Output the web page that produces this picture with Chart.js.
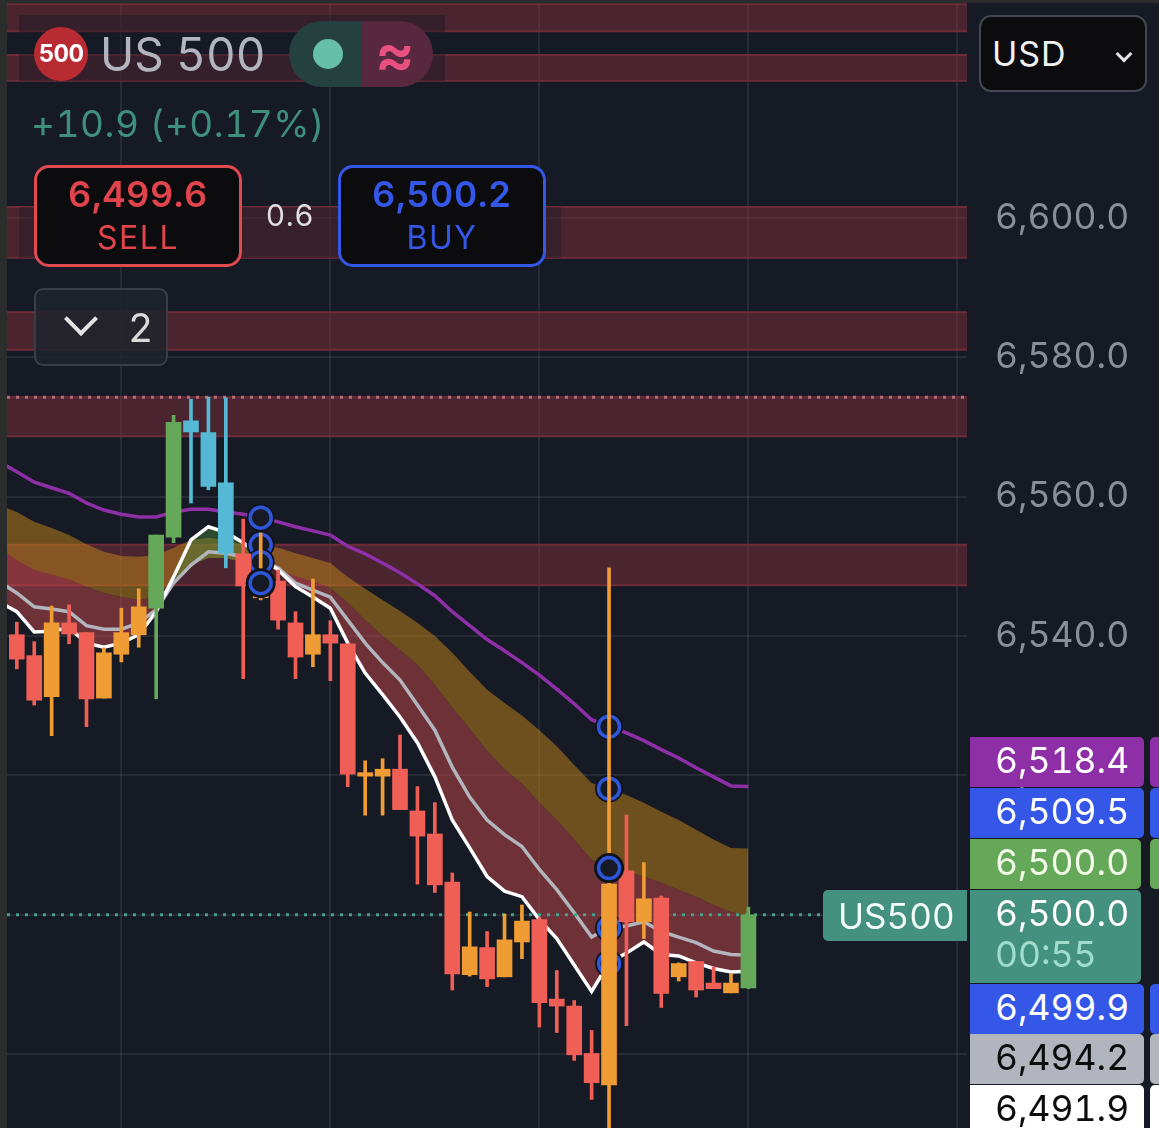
<!DOCTYPE html>
<html>
<head>
<meta charset="utf-8">
<script src="https://cdn.jsdelivr.net/npm/chart.js@4"></script>
<style>
  html, body { margin: 0; padding: 0; background: #161a25; }
  #wrap { position: relative; width: 1159px; height: 1128px; overflow: hidden; font-family: Inter, "Noto Sans", sans-serif; font-variant-numeric: tabular-nums; }
  #wrap div { position: absolute; box-sizing: border-box; white-space: nowrap; }
  canvas { position: absolute; left: 0; top: 0; }
  .center { text-align: center; }
  .tag { left: 970px; height: 50px; border-radius: 0 5px 5px 0; color: #fff; font-size: 35.5px; line-height: 48px; padding-left: 25px; }
  .stub { left: 1150px; width: 12px; height: 50px; border-radius: 5px 0 0 5px; }
  .chev { border-right: 4px solid #e3e3e3; border-bottom: 4px solid #e3e3e3; transform: rotate(45deg); }
</style>
</head>
<body>
<div id="wrap">
  <canvas id="chart" width="1159" height="1128"></canvas>

  <div style="left:0;top:0;width:7px;height:1128px;background:#2b2c2c"></div>
  <div style="left:0;top:0;width:1159px;height:3px;background:#2b2c2c"></div>

  <div style="left:19px;top:15px;width:426px;height:66px;background:rgba(22,26,37,.42)"></div>
  <div style="left:19px;top:207px;width:542px;height:51px;background:rgba(22,26,37,.35)"></div>

  <div style="left:34px;top:27px;width:54px;height:54px;border-radius:50%;background:#b82b33"></div>
  <div class="center" style="left:34px;top:27px;width:54px;line-height:54px;color:#fff;font-size:24px;font-weight:700;letter-spacing:-.6px">500</div>
  <div style="left:100px;top:26px;color:#b2b5be;font-size:46px;line-height:56px">US 500</div>
  <div style="left:289px;top:21px;width:73px;height:66px;border-radius:33px 0 0 33px;background:#24403f"></div>
  <div style="left:362px;top:21px;width:71px;height:66px;border-radius:0 33px 33px 0;background:#58283f"></div>
  <div style="left:313px;top:39px;width:30px;height:30px;border-radius:50%;background:#66bfa8"></div>
  <div class="center" style="left:362px;top:21px;width:66px;line-height:64px;color:#e8507f;font-size:60px;font-weight:600">≈</div>
  <div style="left:31px;top:100px;color:#3f8f7c;font-size:37px;line-height:48px;letter-spacing:.5px">+10.9 (+0.17%)</div>

  <div style="left:34px;top:165px;width:208px;height:102px;border:3px solid #e04a50;border-radius:15px;background:#0c0c0e"></div>
  <div class="center" style="left:34px;top:172px;width:208px;color:#e0444c;font-size:36px;line-height:44px;font-weight:600;letter-spacing:.6px">6,499.6</div>
  <div class="center" style="left:34px;top:218px;width:208px;color:#e0444c;font-size:32px;line-height:40px;letter-spacing:1.5px">SELL</div>
  <div class="center" style="left:260px;top:197px;width:60px;color:#dfdfdf;font-size:30px;line-height:36px;letter-spacing:.5px">0.6</div>
  <div style="left:338px;top:165px;width:208px;height:102px;border:3px solid #3557e8;border-radius:15px;background:#0c0c0e"></div>
  <div class="center" style="left:338px;top:172px;width:208px;color:#3557e8;font-size:36px;line-height:44px;font-weight:600;letter-spacing:.6px">6,500.2</div>
  <div class="center" style="left:338px;top:218px;width:208px;color:#3557e8;font-size:32px;line-height:40px;letter-spacing:1.5px">BUY</div>

  <div style="left:34px;top:288px;width:134px;height:78px;border:2.5px solid #3a3d45;border-radius:9px;background:rgba(32,35,44,.88)"></div>
  <div class="chev" style="left:69px;top:307px;width:24px;height:24px"></div>
  <div style="left:128px;top:304px;color:#d9d9d9;font-size:39px;line-height:48px">2</div>

  <div style="left:979px;top:15px;width:168px;height:77px;border:2.5px solid #44474f;border-radius:12px;background:#0c0c0e"></div>
  <div style="left:992px;top:32px;color:#f2f2f2;font-size:34px;line-height:44px;letter-spacing:1px">USD</div>
  <div class="chev" style="left:1118px;top:48px;width:12px;height:12px;border-width:3px"></div>

  <div style="left:823px;top:890px;width:144px;height:51px;border-radius:5px 0 0 5px;background:#45917f"></div>
  <div style="left:838px;top:892px;color:#f2fbf8;font-size:35px;line-height:48px">US500</div>
  <div id="tags"></div>
</div>

<script>
// price scale
const yMin = 6469.4;
const yMax = 6631.3;
const yTicks = [6480, 6500, 6520, 6540, 6560, 6580, 6600];
const xMin = -0.563;
const xMax = 54.55;
const xGrid = [6, 18, 30, 42, 54];

// one letter per candle: r red, o orange, g green, b blue
const kinds = ["r","r","o","r","r","o","o","o","g","g","b","b","b","r","o","r","r","o","r","r","o","o","r","r","r","r","o","r","o","o","r","r","r","r","o","r","o","r","o","r","r","o","g"];
const highs = [6542.0,6539.2,6544.3,6544.5,6540.5,6538.3,6544.0,6546.8,6554.5,6571.7,6574.0,6574.3,6574.2,6556.8,6554.8,6549.5,6543.5,6548.2,6542.2,6538.9,6522.1,6522.4,6525.8,6518.4,6516.1,6506.0,6500.4,6497.6,6500.1,6501.4,6499.6,6492.0,6487.7,6483.4,6549.8,6514.3,6507.5,6502.7,6493.1,6493.3,6492.5,6491.5,6501.1];
const lows = [6535.3,6530.1,6525.7,6538.9,6527.0,6531.1,6536.3,6538.4,6531.0,6553.4,6559.1,6561.0,6549.8,6533.9,6545.2,6541.0,6533.9,6535.6,6533.6,6518.4,6514.3,6514.3,6515.1,6504.4,6503.2,6489.2,6491.2,6489.7,6491.1,6493.7,6483.9,6483.1,6479.1,6473.5,6466.3,6484.1,6496.6,6486.7,6490.5,6488.2,6489.4,6488.8,6489.4];
const bodyTops = [6540.2,6537.2,6541.9,6541.9,6540.5,6537.6,6540.5,6544.2,6554.5,6570.7,6570.9,6569.2,6562.0,6551.8,6547.3,6547.9,6541.9,6540.2,6540.2,6538.9,6520.4,6520.9,6520.9,6514.9,6511.6,6504.7,6495.4,6495.3,6496.4,6499.1,6499.3,6487.9,6486.9,6480.1,6504.4,6506.3,6502.3,6502.4,6493.0,6493.3,6490.2,6490.2,6500.0];
const bodyBottoms = [6536.7,6530.8,6531.3,6540.3,6531.0,6531.1,6537.4,6540.2,6544.0,6554.2,6569.3,6561.5,6551.9,6547.2,6545.5,6542.3,6537.0,6537.4,6539.0,6520.2,6519.9,6519.9,6515.1,6511.3,6504.3,6491.5,6491.4,6490.8,6491.1,6496.1,6487.4,6486.9,6479.9,6475.9,6475.6,6499.0,6499.0,6488.7,6491.1,6489.2,6489.4,6488.8,6489.5];

// moving averages, first value sits one bar left of the first candle
const purpleLine = [6565.0,6563.6,6562.1,6561.3,6560.5,6559.1,6558.1,6557.5,6557.1,6557.1,6557.8,6558.2,6558.2,6557.8,6557.5,6557.0,6556.4,6555.7,6555.1,6554.5,6552.9,6551.8,6550.5,6549.1,6547.5,6545.8,6543.5,6541.5,6539.5,6537.9,6536.2,6534.4,6532.4,6530.3,6528.0,6527.0,6526.1,6525.0,6523.7,6522.5,6521.1,6519.8,6518.5,6518.4];
const brownUpper = [6558.8,6557.8,6556.4,6555.5,6554.5,6553.2,6552.1,6551.5,6551.4,6551.6,6552.7,6553.8,6554.1,6553.8,6553.1,6553.1,6552.7,6551.9,6551.2,6550.5,6548.5,6546.8,6545.2,6543.6,6541.9,6540.0,6537.6,6534.9,6532.3,6530.4,6528.6,6526.5,6524.2,6521.5,6518.9,6518.1,6517.2,6516.1,6514.8,6513.6,6512.2,6510.8,6509.6,6509.5];
const brownLower = [6552.7,6550.9,6549.5,6548.8,6548.1,6547.1,6546.2,6545.6,6545.2,6545.6,6548.1,6550.2,6551.2,6551.2,6550.6,6550.1,6549.5,6548.6,6547.8,6546.9,6544.8,6542.3,6540.0,6538.0,6535.9,6533.0,6529.7,6526.7,6523.5,6520.9,6518.8,6516.1,6513.6,6510.8,6507.9,6506.7,6506.2,6505.5,6504.6,6503.6,6502.6,6501.4,6500.4,6499.9];
const grayLine = [6547.8,6546.2,6544.2,6543.9,6543.5,6541.5,6541.0,6541.0,6541.9,6543.8,6547.6,6550.2,6552.1,6551.9,6551.4,6550.6,6549.8,6547.6,6546.6,6545.6,6542.3,6539.0,6536.2,6533.7,6530.1,6526.5,6521.2,6516.9,6513.6,6511.5,6509.8,6506.5,6503.6,6500.3,6496.8,6498.1,6498.4,6499.0,6497.6,6496.8,6496.0,6494.8,6494.3,6494.2];
const whiteLine = [6544.9,6543.5,6540.6,6540.7,6541.2,6539.0,6538.4,6539.0,6540.2,6543.5,6548.5,6553.8,6555.7,6554.9,6553.4,6551.4,6549.5,6547.1,6545.6,6544.0,6539.0,6534.7,6531.6,6528.4,6524.7,6519.8,6513.6,6509.6,6505.5,6503.4,6502.6,6499.3,6496.6,6492.8,6489.0,6493.1,6494.5,6496.1,6494.3,6494.1,6493.1,6492.3,6491.8,6491.9];

// resistance zones and dotted price lines
const zoneTops = [6630.7,6623.4,6601.6,6586.5,6574.3,6553.1];
const zoneBottoms = [6626.8,6619.7,6594.3,6581.1,6568.7,6547.3];
const topDotted = 6574.3;
const lastPrice = 6500.0;

// position markers on the moving averages
const ringsBelowX = [14,14,14,34,34,34,34];
const ringsBelowY = [6557.0,6553.1,6550.6,6527.0,6518.1,6498.1,6493.0];
const ringsAboveX = [14,34];
const ringsAboveY = [6547.6,6506.7];

// right hand price tags
const tagLabels = ["6,518.4","6,509.5","6,500.0","6,499.9","6,494.2","6,491.9"];
const tagTops = [737,788,839,984,1034,1085];
const tagWidths = [174,174,171,174,174,174];
const tagBacks = ["#8f2fa8","#3557e8","#66a85a","#3557e8","#b2b5be","#ffffff"];
const tagInks = ["#fff","#fff","#f3fbe9","#fff","#0c0c0c","#0c0c0c"];

const tagBox = document.getElementById("tags");
tagBox.style.cssText = "left:0;top:0;width:1159px;height:1128px";
tagLabels.forEach((t, i) => {
  tagBox.insertAdjacentHTML("beforeend",
    `<div class="tag" style="top:${tagTops[i]}px;width:${tagWidths[i]}px;background:${tagBacks[i]};color:${tagInks[i]}">${t}</div>` +
    `<div class="stub" style="top:${tagTops[i]}px;background:${tagBacks[i]}"></div>`);
});
tagBox.insertAdjacentHTML("beforeend",
  `<div class="tag" style="top:890px;width:171px;height:93px;background:#45917f">6,500.0</div>` +
  `<div class="tag" style="top:931px;width:171px;background:none;color:#9fdccb">00:55</div>`);

const palette = { r: "#ef5f56", o: "#f09c34", g: "#66a85a", b: "#55b8d4" };
const candleColors = kinds.map((k) => palette[k]);
const lineX = purpleLine.map((_, i) => i - 1);
const series = (ys) => ys.map((y, i) => ({ x: lineX[i], y }));
const spanLine = (y) => [{ x: xMin, y }, { x: xMax, y }];

const brownFill = "rgba(198,134,25,0.5)";
const redFill = "rgba(198,72,75,0.5)";
const greenFill = "rgba(70,130,60,0.45)";

const lineBase = { type: "line", pointRadius: 0, tension: 0, borderCapStyle: "butt" };
const markBase = { type: "line", showLine: false, pointHoverRadius: 0 };

const datasets = [];
zoneTops.forEach((top, i) => {
  datasets.push({ ...lineBase, data: spanLine(top), borderColor: "#6e2c38", borderWidth: 2, backgroundColor: "rgba(152,53,60,0.4)", fill: { value: zoneBottoms[i] }, order: 100 });
  datasets.push({ ...lineBase, data: spanLine(zoneBottoms[i]), borderColor: "#6e2c38", borderWidth: 2, order: 99 });
});
datasets.push(
  { ...lineBase, data: spanLine(topDotted), borderColor: "#b86a78", borderWidth: 3, borderDash: [3, 6], order: 98 },
  { ...lineBase, data: series(brownUpper), borderWidth: 0, fill: { target: "+1", above: brownFill, below: brownFill }, order: 90 },
  { ...lineBase, data: series(brownLower), borderWidth: 0, fill: { target: "+1", above: redFill, below: greenFill }, order: 89 },
  { ...lineBase, data: series(whiteLine), borderColor: "#ffffff", borderWidth: 3.5, order: 80 },
  { ...lineBase, data: series(grayLine), borderColor: "#b2b5be", borderWidth: 3.5, order: 81 },
  { ...lineBase, data: series(purpleLine), borderColor: "#8f2fa8", borderWidth: 3.5, order: 82 },
  { ...lineBase, data: spanLine(lastPrice), borderColor: "#46a08c", borderWidth: 3, borderDash: [3, 6], order: 70 },
  { type: "bar", data: highs.map((h, i) => ({ x: i, y: [lows[i], h] })), backgroundColor: candleColors, barThickness: 3, grouped: false, order: 50 },
  { type: "bar", data: bodyTops.map((t, i) => ({ x: i, y: [bodyBottoms[i], t] })), backgroundColor: candleColors, barThickness: 15, grouped: false, order: 49 }
);

// each ring gets its own pair so a later halo can cover the ring before it
const addRing = (x, y, haloRadius, haloColor, order) => {
  datasets.push(
    { ...markBase, data: [{ x, y }], pointRadius: haloRadius, pointBackgroundColor: haloColor, pointBorderWidth: 0, order: order + 0.5 },
    { ...markBase, data: [{ x, y }], pointRadius: 10.5, pointBackgroundColor: "#161a25", pointBorderColor: "#2e56d8", pointBorderWidth: 3.5, order }
  );
};
ringsBelowX.forEach((x, i) => addRing(x, ringsBelowY[i], 14, "#11141c", 60 - i));
ringsAboveX.forEach((x, i) => addRing(x, ringsAboveY[i], 15, "#0f1219", 40 - i));

new Chart(document.getElementById("chart"), {
  type: "bar",
  data: { datasets },
  options: {
    responsive: false,
    animation: false,
    layout: { autoPadding: false, padding: { left: 7, top: 0, bottom: 0, right: 0 } },
    plugins: { legend: { display: false }, title: { display: false }, tooltip: { enabled: false } },
    scales: {
      x: {
        type: "linear",
        offset: false,
        min: xMin,
        max: xMax,
        afterBuildTicks: (scale) => { scale.ticks = xGrid.map((value) => ({ value })); },
        grid: { offset: false, color: "rgba(255,255,255,0.075)", lineWidth: 2, drawTicks: false },
        border: { display: false },
        ticks: { display: false },
      },
      y: {
        position: "right",
        min: yMin,
        max: yMax,
        afterBuildTicks: (scale) => { scale.ticks = yTicks.map((value) => ({ value })); },
        afterFit: (scale) => { scale.width = 192; scale.paddingTop = 0; scale.paddingBottom = 0; },
        grid: { color: "rgba(255,255,255,0.075)", lineWidth: 2, drawTicks: false },
        border: { display: false },
        ticks: {
          padding: 28,
          color: "#8b8e96",
          font: { family: "Inter", size: 35.5 },
          autoSkip: false,
          callback: (v) => v.toLocaleString("en-US", { minimumFractionDigits: 1 }),
        },
      },
    },
  },
});
</script>
</body>
</html>
